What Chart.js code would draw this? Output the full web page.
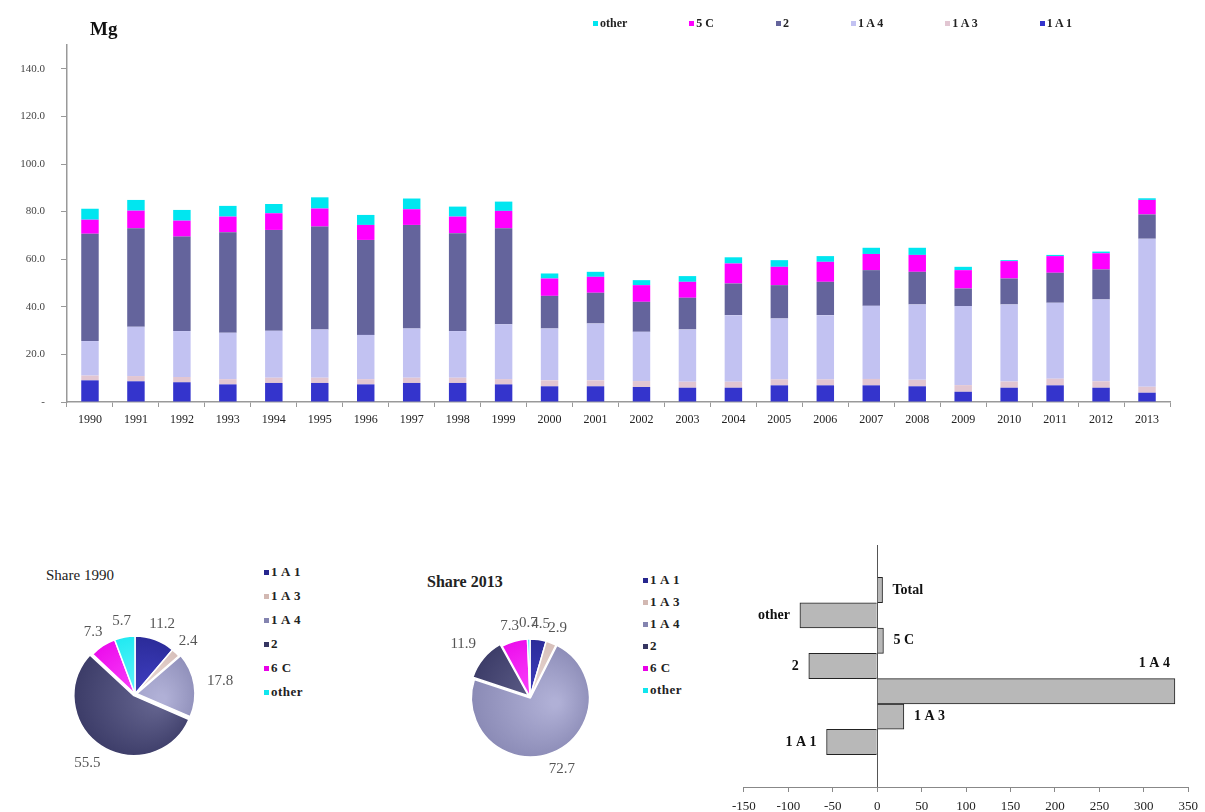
<!DOCTYPE html>
<html>
<head>
<meta charset="utf-8">
<script src="https://cdn.jsdelivr.net/npm/chart.js@4.4.0/dist/chart.umd.min.js"></script>
<style>
  body { margin: 0; background: #fff; overflow: hidden; font-family: "Liberation Serif", "Times New Roman", serif; }
  #page { position: relative; width: 1205px; height: 812px; }
  canvas { position: absolute; }
  .txt { position: absolute; color: #222; line-height: 1; white-space: nowrap; }
  #mg { left: 90px; top: 19px; font-size: 19px; font-weight: bold; color: #111; }
  #topLegend { position: absolute; left: 593px; top: 16px; display: flex; gap: 62px; font-size: 12px; font-weight: bold; }
  .pieLegend { position: absolute; display: flex; flex-direction: column; font-size: 13px; font-weight: bold; letter-spacing: 0.5px; }
  .item { display: flex; align-items: center; color: #222; line-height: 14px; white-space: nowrap; }
  .item i { display: inline-block; width: 5px; height: 5px; margin-right: 2px; }
</style>
</head>
<body>
<div id="page">
  <canvas id="trend" width="1205" height="442" style="left:0;top:0"></canvas>
  <div class="txt" id="mg">Mg</div>
  <div id="topLegend"></div>

  <div class="txt" style="left:46px;top:568px;font-size:15px">Share 1990</div>
  <canvas id="pie1990" width="200" height="200" style="left:35px;top:594px"></canvas>
  <div class="pieLegend" id="legend1990" style="left:264px;top:565px;gap:10px"></div>

  <div class="txt" style="left:427px;top:574px;font-size:16px;font-weight:bold">Share 2013</div>
  <canvas id="pie2013" width="200" height="200" style="left:430px;top:597px"></canvas>
  <div class="pieLegend" id="legend2013" style="left:643px;top:573px;gap:8px"></div>

  <canvas id="change" width="480" height="273" style="left:725px;top:540px"></canvas>
</div>

<script>
// emissions per source, Mg
const years = ['1990','1991','1992','1993','1994','1995','1996','1997','1998','1999','2000','2001',
               '2002','2003','2004','2005','2006','2007','2008','2009','2010','2011','2012','2013'];
const a1 = [9.1,8.7,8.3,7.4,8.0,8.0,7.4,8.0,8.0,7.4,6.6,6.6,6.3,6.0,6.0,7.0,7.0,7.0,6.6,4.3,6.0,7.0,6.0,3.9];
const a3 = [2.0,2.2,2.2,2.2,2.2,2.2,2.2,2.2,2.2,2.2,2.5,2.5,2.5,2.5,2.5,2.5,2.5,2.7,2.7,2.8,2.6,2.8,2.7,2.5];
const a4 = [14.5,20.7,19.3,19.5,19.7,20.3,18.6,20.7,19.6,23.1,21.8,23.9,20.7,22.0,28.0,25.6,27.0,30.7,31.7,33.2,32.4,31.9,34.4,62.2];
const ind = [45.1,41.4,39.7,42.2,42.4,43.2,39.9,43.5,41.1,40.3,13.7,12.9,12.6,13.3,13.3,14.0,14.0,15.0,13.7,7.4,10.9,12.6,12.6,10.2];
const c5 = [5.9,7.4,6.7,6.6,7.0,7.6,6.3,6.6,7.0,7.3,7.3,6.7,7.0,6.7,8.4,7.7,8.4,6.8,7.1,7.7,7.3,7.0,6.8,6.1];
const other = [4.6,4.5,4.5,4.5,3.9,4.7,4.2,4.5,4.2,3.9,2.1,2.1,2.1,2.4,2.6,2.8,2.4,2.6,3.0,1.4,0.4,0.5,0.7,0.7];

const sources = ['1 A 1','1 A 3','1 A 4','2','5 C','other'];
const pieSources = ['1 A 1','1 A 3','1 A 4','2','6 C','other'];
const share1990 = [11.2,2.4,17.8,55.5,7.3,5.7];
const share2013 = [4.5,2.9,72.7,11.9,7.3,0.7];

// change 1990-2013, %
const changeCats = ['1 A 1','1 A 3','1 A 4','2','5 C','other','Total'];
const changeVals = [-57,30,335,-77,7,-87,6];

const barColors = ['#3434cc','#e2c6d2','#c2c2f2','#64649c','#ff00ff','#00e6f0'];
const pieColors = ['#26268e','#d2b8b2','#8484b0','#363662','#e800e8','#10e6ee'];
const pieLight  = ['#4040c4','#eadad6','#b0b0d6','#64648f','#ff50ff','#70f8ff'];

Chart.defaults.font.family = '"Liberation Serif", "Times New Roman", serif';

new Chart(document.getElementById('trend'), {
  type: 'bar',
  data: {
    labels: years,
    datasets: [a1, a3, a4, ind, c5, other].map((d, i) => ({
      label: sources[i], data: d, backgroundColor: barColors[i], borderWidth: 0
    }))
  },
  options: {
    responsive: false,
    animation: false,
    layout: { padding: { top: 45, right: 35 } },
    plugins: { legend: { display: false }, tooltip: { enabled: false } },
    datasets: { bar: { barPercentage: 0.38, categoryPercentage: 1 } },
    scales: {
      x: {
        stacked: true,
        grid: { drawOnChartArea: false, tickLength: 5, color: '#999' },
        border: { color: '#999', width: 1.5 },
        ticks: { padding: 6, color: '#222', font: { size: 12 }, maxRotation: 0, autoSkip: false },
        afterFit: s => { s.height = 40; }
      },
      y: {
        stacked: true, min: 0, max: 150,
        afterBuildTicks: s => { s.ticks = s.ticks.filter(t => t.value <= 140); },
        ticks: { stepSize: 20, padding: 16, color: '#444', font: { size: 11 },
                 callback: v => v === 0 ? '-' : v.toFixed(1) },
        grid: { drawOnChartArea: false, tickLength: 6, color: '#999' },
        border: { color: '#999', width: 1.5 },
        afterFit: s => { s.width = 67; }
      }
    }
  }
});

// html legends
const topLegend = document.getElementById('topLegend');
for (let i = sources.length - 1; i >= 0; i--) {
  topLegend.innerHTML += '<span class="item"><i style="background:' + barColors[i] + '"></i>' + sources[i] + '</span>';
}
['legend1990', 'legend2013'].forEach(id => {
  const el = document.getElementById(id);
  pieSources.forEach((s, i) => {
    el.innerHTML += '<span class="item"><i style="background:' + pieColors[i] + '"></i>' + s + '</span>';
  });
});

const sliceLabels = {
  id: 'sliceLabels',
  afterDatasetsDraw(chart) {
    const ctx = chart.ctx;
    const vals = chart.data.datasets[0].data;
    ctx.save();
    ctx.font = '15px "Liberation Serif"';
    ctx.fillStyle = '#555';
    ctx.textAlign = 'center';
    ctx.textBaseline = 'middle';
    chart.getDatasetMeta(0).data.forEach((arc, i) => {
      const p = arc.getProps(['x', 'y', 'startAngle', 'endAngle', 'outerRadius'], true);
      const mid = (p.startAngle + p.endAngle) / 2;
      const d = p.outerRadius + (arc.options.offset || 0) + 8;
      const txt = vals[i].toFixed(1);
      const hw = ctx.measureText(txt).width / 2;
      const cx = p.x + Math.cos(mid) * d + Math.cos(mid) * hw;
      const cy = p.y + Math.sin(mid) * d + Math.sin(mid) * 8;
      ctx.fillText(txt, cx, cy);
    });
    ctx.restore();
  }
};

function pieChart(id, values, offsets) {
  new Chart(document.getElementById(id), {
    type: 'pie',
    data: {
      labels: pieSources,
      datasets: [{
        data: values,
        offset: offsets,
        borderColor: '#fff',
        borderWidth: 1.5,
        backgroundColor: c => {
          const a = c.chart.chartArea;
          if (!a) return pieColors[c.dataIndex];
          const cx = (a.left + a.right) / 2, cy = (a.top + a.bottom) / 2;
          const g = c.chart.ctx.createRadialGradient(cx + 25, cy + 5, 4, cx, cy, 72);
          g.addColorStop(0, pieLight[c.dataIndex]);
          g.addColorStop(1, pieColors[c.dataIndex]);
          return g;
        }
      }]
    },
    options: {
      responsive: false,
      animation: false,
      radius: 58,
      plugins: { legend: { display: false }, tooltip: { enabled: false } }
    },
    plugins: [sliceLabels]
  });
}
pieChart('pie1990', share1990, [0, 0, 7, 8, 0, 0]);
pieChart('pie2013', share2013, [0, 0, 4, 8, 0, 0]);

const barEndLabels = {
  id: 'barEndLabels',
  afterDatasetsDraw(chart) {
    const ctx = chart.ctx, area = chart.chartArea;
    ctx.save();
    ctx.font = 'bold 14px "Liberation Serif"';
    ctx.fillStyle = '#111';
    ctx.textBaseline = 'middle';
    chart.getDatasetMeta(0).data.forEach((bar, i) => {
      const p = bar.getProps(['x', 'y', 'base', 'height'], true);
      if (p.x > area.right - 60) {
        ctx.textAlign = 'right';
        ctx.fillText(changeCats[i], p.x - 5, p.y - p.height / 2 - 15);
      } else if (changeVals[i] >= 0) {
        ctx.textAlign = 'left';
        ctx.fillText(changeCats[i], p.x + 10, p.y);
      } else {
        ctx.textAlign = 'right';
        ctx.fillText(changeCats[i], p.x - 10, p.y);
      }
    });
    ctx.restore();
  }
};

new Chart(document.getElementById('change'), {
  type: 'bar',
  data: {
    datasets: [{
      data: changeVals.map((v, i) => ({ x: v, y: i })),
      backgroundColor: '#b8b8b8',
      borderColor: '#222',
      borderWidth: 1,
      barPercentage: 1,
      categoryPercentage: 1
    }]
  },
  options: {
    indexAxis: 'y',
    responsive: false,
    animation: false,
    layout: { padding: { left: 18, right: 13, top: 5 } },
    plugins: { legend: { display: false }, tooltip: { enabled: false } },
    scales: {
      y: { type: 'linear', min: -1.25, max: 7.25, display: false },
      x: {
        min: -150, max: 350,
        ticks: { stepSize: 50, padding: 7, color: '#222', font: { size: 13 } },
        grid: {
          color: c => c.tick && c.tick.value === 0 ? '#555' : 'rgba(0,0,0,0)',
          tickColor: '#888', tickLength: 5
        },
        border: { color: '#888' },
        afterFit: s => { s.height = 26; }
      }
    }
  },
  plugins: [barEndLabels]
});
</script>
</body>
</html>
